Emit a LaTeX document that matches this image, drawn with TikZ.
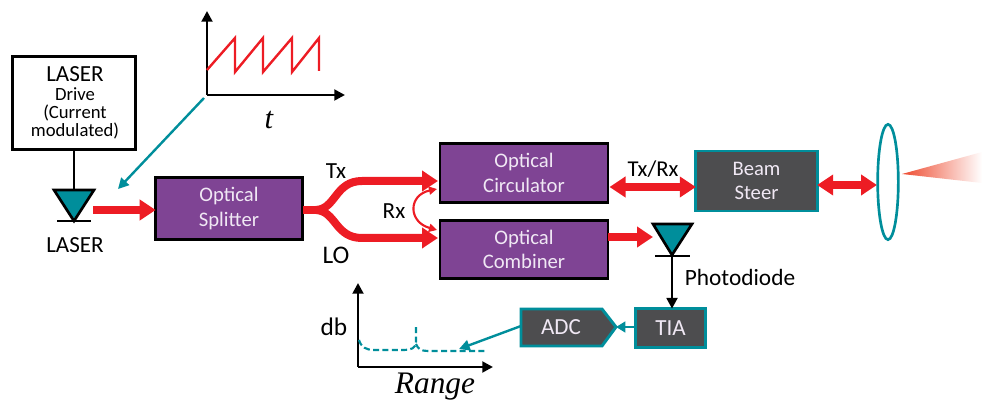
\documentclass[tikz,border=0pt]{standalone}
\usepackage{fontspec}
\setmainfont{Carlito}
\newfontfamily\serifit[ItalicFont=Liberation Serif Italic]{Liberation Serif}
\usetikzlibrary{arrows.meta,shapes.geometric,shapes.arrows,shapes.symbols}
\definecolor{rd}{HTML}{ED1C24}
\definecolor{pur}{HTML}{7F4494}
\definecolor{tl}{HTML}{008E9B}
\definecolor{gy}{HTML}{4D4D4F}
\definecolor{soft}{HTML}{F0E8F4}
\definecolor{conered}{HTML}{EE4B30}
\newcommand{\fs}[1]{\fontsize{#1}{#1}\selectfont}
\tikzset{
  x=0.75pt,y=-0.75pt,
  pbox/.style={draw=black,line width=2.2pt,fill=pur,text=soft,align=center,inner sep=0pt,outer sep=0pt,font=\fontsize{15.5}{18}\selectfont},
  gbox/.style={draw=tl,line width=2.2pt,fill=gy,text=soft,align=center,inner sep=0pt,outer sep=0pt},
  lab/.style={inner sep=0pt,font=\fontsize{17.3}{20}\selectfont},
  bigred/.style={draw=rd,line width=6pt,-{Triangle[length=12pt,width=15pt]}},
  dblred/.style={draw=rd,line width=6pt,{Triangle[length=12pt,width=15pt]}-{Triangle[length=12pt,width=15pt]}},
  axisline/.style={draw=black,line width=2.1pt,-{Triangle[length=8pt,width=8pt]}},
  tlarrow/.style={draw=tl,line width=1.8pt,-{Triangle[length=8pt,width=8pt]}},
  diode/.style={draw=black,line width=2pt,fill=tl,line join=miter},
  wire/.style={draw=black,line width=2.2pt},
  dashcurve/.style={draw=tl,line width=1.6pt,dash pattern=on 4.5pt off 2.5pt},
}
\begin{document}
\begin{tikzpicture}
\useasboundingbox (0,0) rectangle (982,402);
% boxes
\node[draw=black,line width=2.2pt,fill=white,minimum width=92pt,minimum height=70pt,outer sep=0pt] (drive) at (74,103) {};
\node[lab] (dl1) at (75,74) {LASER};
\node[inner sep=0pt,font=\fs{14}] (dl2) at (75,94) {Drive};
\node[inner sep=0pt,font=\fs{14}] (dl3) at (75,113) {(Current};
\node[inner sep=0pt,font=\fs{14}] (dl4) at (75,131) {modulated)};
\node[pbox,minimum width=110pt,minimum height=46pt] (split) at (229,208.5) {Optical\\[0.5pt]Splitter};
\node[pbox,minimum width=126pt,minimum height=44pt] (circ) at (524,173) {Optical\\[0.5pt]Circulator};
\node[pbox,minimum width=126pt,minimum height=44pt] (comb) at (524,249.5) {Optical\\[0.5pt]Combiner};
\node[gbox,minimum width=91pt,minimum height=45pt,font=\fontsize{15.5}{17.5}\selectfont] (beam) at (756.5,181) {Beam\\Steer};
\node[gbox,minimum width=53pt,minimum height=29pt,font=\fs{17.3}] (tia) at (670.5,328) {TIA};
\coordinate (adctip) at (616,327);
\path[draw=tl,line width=2.2pt,fill=gy] (521,309) -- (602,309) -- (adctip) -- (602,346) -- (521,346) -- cycle;
\node[inner sep=0pt,text=soft,font=\fs{17.3}] (adc) at (561,327) {ADC};
% laser diode
\coordinate (ld) at (74,190);
\coordinate (ldapex) at (74,221);
\path[diode] (54,190) -- (94,190) -- (ldapex) -- cycle;
\draw[wire] (57,221) -- (91,221);
\draw[wire] (drive.south) -- (ld);
\node[lab] (laser) at (75,245) {LASER};
\coordinate (ldout) at (93,210);
\draw[bigred] (ldout) -- (split.west |- ldout);
% chart top
\coordinate (o1) at (207,95);
\coordinate (o1y) at (207,11);
\coordinate (o1x) at (345,95);
\draw[axisline] (o1) -- (o1y);
\draw[axisline] (o1) -- (o1x);
\draw[rd,line width=1.8pt,line join=miter] (207,70) -- (235,38) -- (235,72) -- (263,38) -- (263,72) -- (292,38) -- (292,72) -- (319,38) -- (319,71);
\node[inner sep=0pt,font=\fontsize{23}{23}\selectfont\serifit\itshape] (t) at (269,120) {t};
\coordinate (c1) at (204,98);
\coordinate (c2) at (118,189);
\draw[tlarrow] (c1) -- (c2);
% Y splitter
\coordinate (y0) at (303,210);
\coordinate (txe) at (438,181);
\coordinate (loe) at (438,238);
\draw[rd,line width=6pt] (y0) -- (316,210);
\draw[bigred] (316,210) .. controls (336,209) and (335,181) .. (362,181) -- (txe);
\draw[bigred] (316,210) .. controls (336,211) and (335,238) .. (362,238) -- (loe);
\node[lab] (tx) at (336,171) {Tx};
\node[lab,font=\fs{19}] (lo) at (336,255) {LO};
\node[lab] (rx) at (394,211) {Rx};
% Rx arc
\coordinate (ra) at (437,189);
\coordinate (rb) at (437,230);
\draw[rd,line width=1.6pt,{Triangle[length=6pt,width=6pt]}-{Triangle[length=6pt,width=6pt]}] (ra) .. controls (408,195) and (408,222) .. (rb);
% right side
\draw[dblred] (circ.east |- 0,187) ++(1.5,0) coordinate (c3) -- (beam.west |- c3);
\node[lab,font=\fs{17}] (txrx) at (653,169) {Tx/Rx};
\coordinate (lensw) at (877,185);
\draw[dblred] (beam.east |- lensw) -- (lensw);
\node[draw=tl,line width=2pt,ellipse,inner sep=0pt,minimum width=15.5pt,minimum height=86.5pt,fill=white] (lens) at (888,182) {};
\shade[left color=conered,right color=white] (902,174) -- (982,152) -- (982,183) -- cycle;
% photodiode
\coordinate (pdapex) at (672,255);
\path[diode] (653,224) -- (692,224) -- (pdapex) -- cycle;
\draw[wire] (655,256) -- (690,256);
\coordinate (pdin) at (653,237);
\draw[bigred] (comb.east |- pdin) -- (pdin);
\draw[axisline] (pdapex) -- (tia.north -| pdapex);
\node[lab,font=\fs{17.5}] (pd) at (740,277) {Photodiode};
% bottom chain
\draw[tlarrow,-{Triangle[length=7pt,width=8pt]}] (tia.west |- adctip) -- (adctip);
\coordinate (c4) at (521,326);
\coordinate (c5) at (459,349);
\draw[tlarrow] (c4) -- (c5);
% chart bottom
\coordinate (o2) at (358,367);
\coordinate (o2y) at (358,283);
\coordinate (o2x) at (493,367);
\draw[axisline] (o2) -- (o2y);
\draw[axisline] (o2) -- (o2x);
\draw[dashcurve] (359,340) .. controls (361,347) and (366,350) .. (374,350) -- (404,350) .. controls (411,350) and (416,348) .. (416,342) -- (416,324);
\draw[dashcurve] (416,344) .. controls (418,349) and (421,351) .. (428,351) -- (485,351);
\node[lab,font=\fs{19}] (db) at (334,327) {db};
\node[inner sep=0pt,font=\fontsize{23.5}{23.5}\selectfont\serifit\itshape] (rng) at (435,386.5) {Range};
\end{tikzpicture}
\end{document}
